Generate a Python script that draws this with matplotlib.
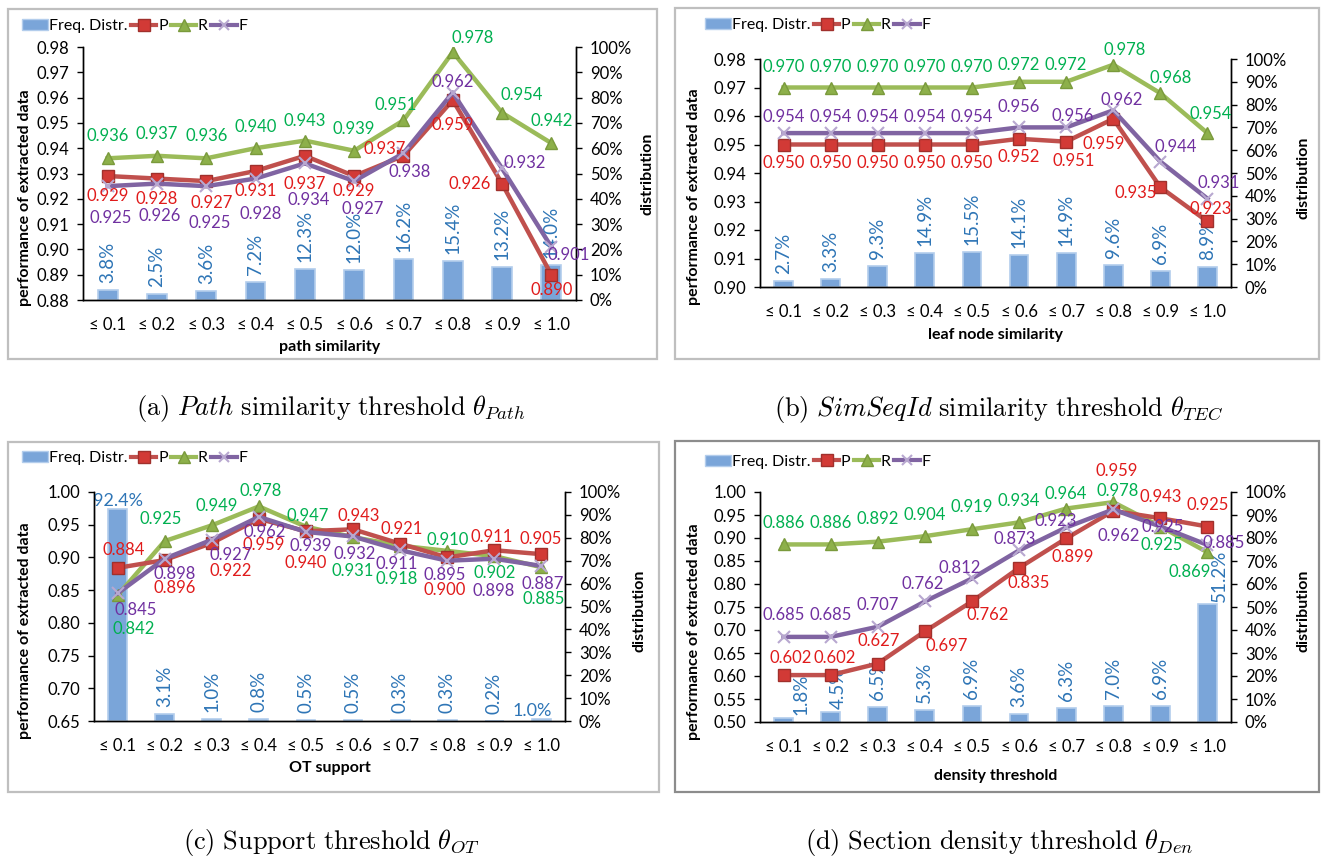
import matplotlib
matplotlib.use("Agg")
import matplotlib.pyplot as plt
from matplotlib.patches import Rectangle, Patch
from matplotlib.lines import Line2D
from matplotlib.ticker import PercentFormatter, FixedLocator, NullFormatter

plt.rcParams["font.family"] = ["Lato", "DejaVu Sans"]
plt.rcParams["mathtext.fontset"] = "cm"

W, H = 1321, 857

categories = ["≤ 0.1", "≤ 0.2", "≤ 0.3", "≤ 0.4", "≤ 0.5",
              "≤ 0.6", "≤ 0.7", "≤ 0.8", "≤ 0.9", "≤ 1.0"]

# (a) path similarity
path_freq = [3.8, 2.5, 3.6, 7.2, 12.3, 12.0, 16.2, 15.4, 13.2, 14.0]
path_p = [0.929, 0.928, 0.927, 0.931, 0.937, 0.929, 0.937, 0.959, 0.926, 0.890]
path_r = [0.936, 0.937, 0.936, 0.940, 0.943, 0.939, 0.951, 0.978, 0.954, 0.942]
path_f = [0.925, 0.926, 0.925, 0.928, 0.934, 0.927, 0.938, 0.962, 0.932, 0.901]

# (b) leaf node similarity
leaf_freq = [2.7, 3.3, 9.3, 14.9, 15.5, 14.1, 14.9, 9.6, 6.9, 8.9]
leaf_p = [0.950, 0.950, 0.950, 0.950, 0.950, 0.952, 0.951, 0.959, 0.935, 0.923]
leaf_r = [0.970, 0.970, 0.970, 0.970, 0.970, 0.972, 0.972, 0.978, 0.968, 0.954]
leaf_f = [0.954, 0.954, 0.954, 0.954, 0.954, 0.956, 0.956, 0.962, 0.944, 0.931]

# (c) OT support
ot_freq = [92.4, 3.1, 1.0, 0.8, 0.5, 0.5, 0.3, 0.3, 0.2, 1.0]
ot_p = [0.884, 0.896, 0.922, 0.959, 0.940, 0.943, 0.921, 0.900, 0.911, 0.905]
ot_r = [0.842, 0.925, 0.949, 0.978, 0.947, 0.931, 0.918, 0.910, 0.902, 0.885]
ot_f = [0.845, 0.898, 0.927, 0.962, 0.939, 0.932, 0.911, 0.895, 0.898, 0.887]

# (d) density threshold
den_freq = [1.8, 4.5, 6.5, 5.3, 6.9, 3.6, 6.3, 7.0, 6.9, 51.2]
den_p = [0.602, 0.602, 0.627, 0.697, 0.762, 0.835, 0.899, 0.959, 0.943, 0.925]
den_r = [0.886, 0.886, 0.892, 0.904, 0.919, 0.934, 0.964, 0.978, 0.925, 0.869]
den_f = [0.685, 0.685, 0.707, 0.762, 0.812, 0.873, 0.923, 0.962, 0.925, 0.885]

LAB_A = dict(
    r=[(0, 22), (0, 22), (0, 22), (0, 21), (0, 20), (0, 22), (-8, 15), (20, 14), (20, 18), (0, 22)],
    p=[(0, -20), (0, -20), (5, -22), (0, -20), (0, -28), (0, -15), (-19, 7), (0, -25), (-32, 0), (0, -15)],
    f=[(3, -32), (3, -32), (3, -37), (5, -35), (4, -37), (9, -28), (6, -19), (0, 11), (23, 5), (17, -8)],
)
LAB_B = dict(
    r=[(0, 20)] * 5 + [(0, 17), (0, 17), (11, 15), (10, 15), (3, 19)],
    p=[(0, -19)] * 5 + [(0, -18), (8, -19), (-10, -25), (-25, -6), (3, 12)],
    f=[(0, 16)] * 5 + [(0, 20), (7, 11), (8, 10), (15, 15), (11, 16)],
)
LAB_C = dict(
    r=[(16, -34), (-4, 22), (5, 19), (2, 15), (2, 11), (0, -34), (-3, -33), (0, 11), (0, -17), (2, -32)],
    p=[(6, 18), (10, -28), (19, -28), (5, -26), (0, -32), (6, 13), (2, 15), (-3, -33), (-3, 13), (-1, 15)],
    f=[(18, -17), (10, -15), (19, -15), (6, -15), (5, -14), (2, -18), (-3, -14), (-3, -14), (-1, -32), (1, -18)],
)
LAB_D = dict(
    r=[(0, 21), (0, 21), (0, 23), (0, 21), (0, 22), (0, 21), (0, 15), (4, 11), (1, -19), (-18, -20)],
    p=[(7, 17), (4, 17), (1, 23), (22, -15), (16, -14), (10, -15), (7, -19), (3, 40), (0, 21), (0, 21)],
    f=[(0, 22), (0, 22), (0, 22), (-2, 17), (-12, 10), (-4, 11), (-10, 6), (5, -27), (2, 0), (16, 2)],
)
# bar label (dx, dy, rotation)
BAR_DEFAULT = [(0, 7, 90)] * 10
BAR_C = [(0, 0, 0)] + [(0, 7, 90)] * 8 + [(-9, 0, 0)]
BAR_D = [(17, 3, 90), (8, 3, 90)] + [(0, 7, 90)] * 7 + [(12, 2, 90)]

C_BAR = "#7AA5D9"
C_P, C_R, C_F = "#C0504D", "#9BBB59", "#8064A2"
T_P, T_R, T_F, T_B = "#E01B1B", "#00B050", "#7030A0", "#2E75B6"


def fx(px):
    return px / W


def fy(py):
    return 1 - py / H


def panel(fig, rect_px, box_px, freq, p, r, f, ylim, ystep, ydec, xlabel,
          labs, barlabs, legend_px, xlabel_y, ylab_pos, dist_pos, box_color):
    x0, top, x1, bot = rect_px
    fig.add_artist(Rectangle((fx(box_px[0]), fy(box_px[3])),
                             fx(box_px[2] - box_px[0]), (box_px[3] - box_px[1]) / H,
                             transform=fig.transFigure, fill=False,
                             edgecolor=box_color, linewidth=1.6))
    ax = fig.add_axes([fx(x0), fy(bot), fx(x1 - x0), (bot - top) / H])
    ax2 = ax.twinx()
    xs = list(range(len(categories)))

    # bars (host axes, shown on the right)
    ax.bar(xs, [v / 100 for v in freq], width=0.4, color=C_BAR,
           edgecolor="#B3CDEC", linewidth=1.2, zorder=2)
    ax.set_ylim(0, 1)
    ax.yaxis.tick_right()
    ax.yaxis.set_major_locator(FixedLocator([i / 10 for i in range(11)]))
    ax.yaxis.set_major_formatter(PercentFormatter(1.0, decimals=0))
    for i, v in enumerate(freq):
        dx, dy, rot = barlabs[i]
        ax.annotate(f"{v:.1f}%", (i, v / 100), xytext=(dx, dy),
                    textcoords="offset pixels", rotation=rot,
                    ha="center", va="bottom",
                    fontsize=13.5 if rot else 13, color=T_B, annotation_clip=False)

    # lines (twin axes, shown on the left)
    ax2.plot(xs, r, color=C_R, lw=3.2, marker="^", ms=9,
             mfc="#8DB04A", mec="#7A9A3C", zorder=3)
    ax2.plot(xs, p, color=C_P, lw=3.2, marker="s", ms=9,
             mfc="#D23A36", mec="#A0302C", zorder=4)
    ax2.plot(xs, f, color=C_F, lw=3.2, marker="x", ms=8, mew=1.5,
             mec="#B8A8D0", zorder=5)
    ax2.set_ylim(*ylim)
    n = int(round((ylim[1] - ylim[0]) / ystep))
    ax2.yaxis.set_major_locator(FixedLocator([ylim[0] + k * ystep for k in range(n + 1)]))
    ax2.yaxis.set_major_formatter(plt.FuncFormatter(lambda v, _: f"{v:.{ydec}f}"))
    ax2.yaxis.tick_left()

    for vals, key, col in ((r, "r", T_R), (p, "p", T_P), (f, "f", T_F)):
        for i, v in enumerate(vals):
            dx, dy = labs[key][i]
            ax2.annotate(f"{v:.3f}", (i, v), xytext=(dx, dy),
                         textcoords="offset pixels", ha="center", va="center",
                         fontsize=12, color=col, zorder=6, annotation_clip=False)

    for a in (ax, ax2):
        a.set_xlim(-0.5, len(categories) - 0.5)
        a.spines["top"].set_visible(False)
        for s in ("left", "right", "bottom"):
            a.spines[s].set_color("black")
            a.spines[s].set_linewidth(1.0)
        a.tick_params(axis="y", labelsize=12, length=4, width=1, direction="out", pad=6)
    ax.xaxis.set_major_locator(FixedLocator([k - 0.5 for k in range(len(categories) + 1)]))
    ax.xaxis.set_major_formatter(NullFormatter())
    ax.xaxis.set_minor_locator(FixedLocator(xs))
    ax.set_xticklabels(categories, minor=True)
    ax.tick_params(axis="x", which="major", length=5, width=1, direction="out")
    ax.tick_params(axis="x", which="minor", length=0, labelsize=12, pad=12)
    ax2.set_xticks([])

    fig.text(fx((x0 + x1) / 2), fy(xlabel_y), xlabel, ha="center", va="center",
             fontsize=11.5, fontweight="bold")
    fig.text(fx(ylab_pos[0]), fy(ylab_pos[1]), "performance of extracted data",
             rotation=90, ha="center", va="center", fontsize=11.5, fontweight="bold")
    fig.text(fx(dist_pos[0]), fy(dist_pos[1]), "distribution",
             rotation=90, ha="center", va="center", fontsize=11.5, fontweight="bold")

    handles = [
        Patch(facecolor=C_BAR, edgecolor="#B3CDEC"),
        Line2D([], [], color=C_P, lw=3, marker="s", ms=8, mfc="#D23A36", mec="#A0302C"),
        Line2D([], [], color=C_R, lw=3, marker="^", ms=8, mfc="#8DB04A", mec="#7A9A3C"),
        Line2D([], [], color=C_F, lw=3, marker="x", ms=7, mew=1.5, mec="#B8A8D0"),
    ]
    fig.legend(handles, ["Freq. Distr.", "P", "R", "F"], ncol=4, frameon=False,
               loc="center left", bbox_to_anchor=(fx(legend_px[0]), fy(legend_px[1])),
               fontsize=11.5, handlelength=1.6, handletextpad=0.1,
               columnspacing=0.2, borderpad=0, borderaxespad=0)
    return ax, ax2


def main():
    fig = plt.figure(figsize=(W / 100, H / 100), dpi=100)

    panel(fig, (83, 47, 576, 300), (8, 9, 657, 359), path_freq, path_p, path_r, path_f,
          (0.88, 0.98), 0.01, 2, "path similarity", LAB_A, BAR_DEFAULT,
          (22, 26), 347, (25, 198), (647, 174), "#BFBFBF")
    panel(fig, (760, 59, 1231, 287), (675, 8, 1319, 359), leaf_freq, leaf_p, leaf_r, leaf_f,
          (0.90, 0.98), 0.01, 2, "leaf node similarity", LAB_B, BAR_DEFAULT,
          (705, 25), 335, (694, 197), (1304, 178), "#BFBFBF")
    panel(fig, (94, 492, 565, 721), (8, 442, 659, 792), ot_freq, ot_p, ot_r, ot_f,
          (0.65, 1.00), 0.05, 2, "OT support", LAB_C, BAR_C,
          (22, 458), 768, (25, 631), (640, 611), "#BFBFBF")
    panel(fig, (760, 492, 1231, 722), (675, 441, 1319, 792), den_freq, den_p, den_r, den_f,
          (0.50, 1.00), 0.05, 2, "density threshold", LAB_D, BAR_D,
          (705, 462), 776, (694, 632), (1303, 611), "#8C8C8C")

    captions = [
        (331, 408, r"$\mathrm{(a)}\ \mathit{Path}\ \mathrm{similarity\ threshold}\ \theta_{Path}$"),
        (999, 410, r"$\mathrm{(b)}\ \mathit{SimSeqId}\ \mathrm{similarity\ threshold}\ \theta_{TEC}$"),
        (331, 842, r"$\mathrm{(c)\ Support\ threshold}\ \theta_{OT}$"),
        (999, 842, r"$\mathrm{(d)\ Section\ density\ threshold}\ \theta_{Den}$"),
    ]
    for x, y, s in captions:
        fig.text(fx(x), fy(y), s, ha="center", va="center", fontsize=19)

    fig.savefig("out.png", dpi=100)
    plt.close(fig)


if __name__ == "__main__":
    main()
